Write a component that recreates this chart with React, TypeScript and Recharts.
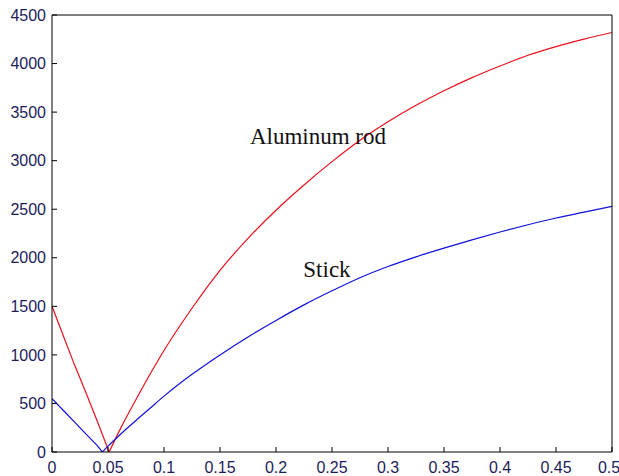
import { LineChart, Line, XAxis, YAxis, ReferenceDot } from "recharts";

// courbe "Aluminum rod" (rouge)
const rodX = [0, 0.01, 0.02, 0.03, 0.04, 0.051, 0.06, 0.075, 0.0875, 0.1, 0.125, 0.15, 0.175, 0.2, 0.225, 0.25, 0.275, 0.3, 0.325, 0.35, 0.375, 0.4, 0.425, 0.45, 0.475, 0.5];
const rodY = [1500, 1200, 900, 620, 330, 0, 215, 540, 800, 1045, 1480, 1870, 2200, 2490, 2750, 2990, 3210, 3400, 3570, 3720, 3855, 3975, 4085, 4175, 4252, 4320];

// courbe "Stick" (bleue)
const stickX = [0, 0.01, 0.02, 0.03, 0.04, 0.045, 0.05, 0.06, 0.075, 0.0875, 0.1, 0.125, 0.15, 0.175, 0.2, 0.225, 0.25, 0.275, 0.3, 0.325, 0.35, 0.375, 0.4, 0.425, 0.45, 0.475, 0.5];
const stickY = [550, 430, 310, 190, 70, 0, 60, 170, 325, 450, 575, 800, 1000, 1185, 1355, 1515, 1660, 1795, 1910, 2010, 2100, 2185, 2265, 2340, 2410, 2470, 2530];

const xTicks = [0, 0.05, 0.1, 0.15, 0.2, 0.25, 0.3, 0.35, 0.4, 0.45, 0.5];
const yTicks = [0, 500, 1000, 1500, 2000, 2500, 3000, 3500, 4000, 4500];

// découpe en deux branches autour du minimum (branche gauche droite, branche droite lissée)
function split(xs: number[], ys: number[]) {
  const iMin = ys.indexOf(Math.min(...ys));
  const pts = xs.map((x, i) => ({ x, v: ys[i] }));
  return [pts.slice(0, iMin + 1), pts.slice(iMin)];
}
const [rodLeft, rodRight] = split(rodX, rodY);
const [stickLeft, stickRight] = split(stickX, stickY);

const TICK = { fill: "#1c1c5c", fontSize: 16, fontFamily: "Liberation Sans, Arial, sans-serif" };
const AXIS = { stroke: "#000", strokeWidth: 1 };
const LABEL = { fill: "#111", fontSize: 23, fontFamily: "Liberation Serif, Times New Roman, serif" };
const RED = "#e8101c";
const BLUE = "#1010d8";

export default function App() {
  return (
    <div style={{ width: 619, height: 476, background: "#fff" }}>
      <style>{`body{margin:0}`}</style>
      <LineChart width={619} height={476} margin={{ top: 14, right: 6, left: 0, bottom: 0 }}>
        <XAxis
          xAxisId="b"
          type="number"
          dataKey="x"
          domain={[0, 0.5]}
          ticks={xTicks}
          tick={TICK}
          tickSize={-5}
          tickMargin={15}
          axisLine={AXIS}
          tickLine={AXIS}
          height={24}
          allowDataOverflow
        />
        <XAxis
          xAxisId="t"
          orientation="top"
          type="number"
          dataKey="x"
          domain={[0, 0.5]}
          ticks={xTicks}
          tick={false}
          tickSize={-5}
          axisLine={AXIS}
          tickLine={AXIS}
          height={1}
        />
        <YAxis
          yAxisId="l"
          domain={[0, 4500]}
          ticks={yTicks}
          tick={TICK}
          tickSize={-5}
          tickMargin={11}
          axisLine={AXIS}
          tickLine={AXIS}
          width={52}
          allowDataOverflow
        />
        <YAxis
          yAxisId="r"
          orientation="right"
          domain={[0, 4500]}
          ticks={yTicks}
          tick={false}
          tickSize={-5}
          axisLine={AXIS}
          tickLine={AXIS}
          width={1}
        />
        <Line xAxisId="b" yAxisId="l" data={rodLeft} dataKey="v" type="linear"
          stroke={RED} strokeWidth={1.2} dot={false} isAnimationActive={false} />
        <Line xAxisId="b" yAxisId="l" data={rodRight} dataKey="v" type="monotone"
          stroke={RED} strokeWidth={1.2} dot={false} isAnimationActive={false} />
        <Line xAxisId="b" yAxisId="l" data={stickLeft} dataKey="v" type="linear"
          stroke={BLUE} strokeWidth={1.2} dot={false} isAnimationActive={false} />
        <Line xAxisId="b" yAxisId="l" data={stickRight} dataKey="v" type="monotone"
          stroke={BLUE} strokeWidth={1.2} dot={false} isAnimationActive={false} />
        <ReferenceDot
          xAxisId="b"
          yAxisId="l"
          x={0.2375}
          y={3254}
          r={0}
          label={{ value: "Aluminum rod", position: "center", ...LABEL }}
        />
        <ReferenceDot
          xAxisId="b"
          yAxisId="l"
          x={0.2455}
          y={1885}
          r={0}
          label={{ value: "Stick", position: "center", ...LABEL }}
        />
      </LineChart>
    </div>
  );
}
